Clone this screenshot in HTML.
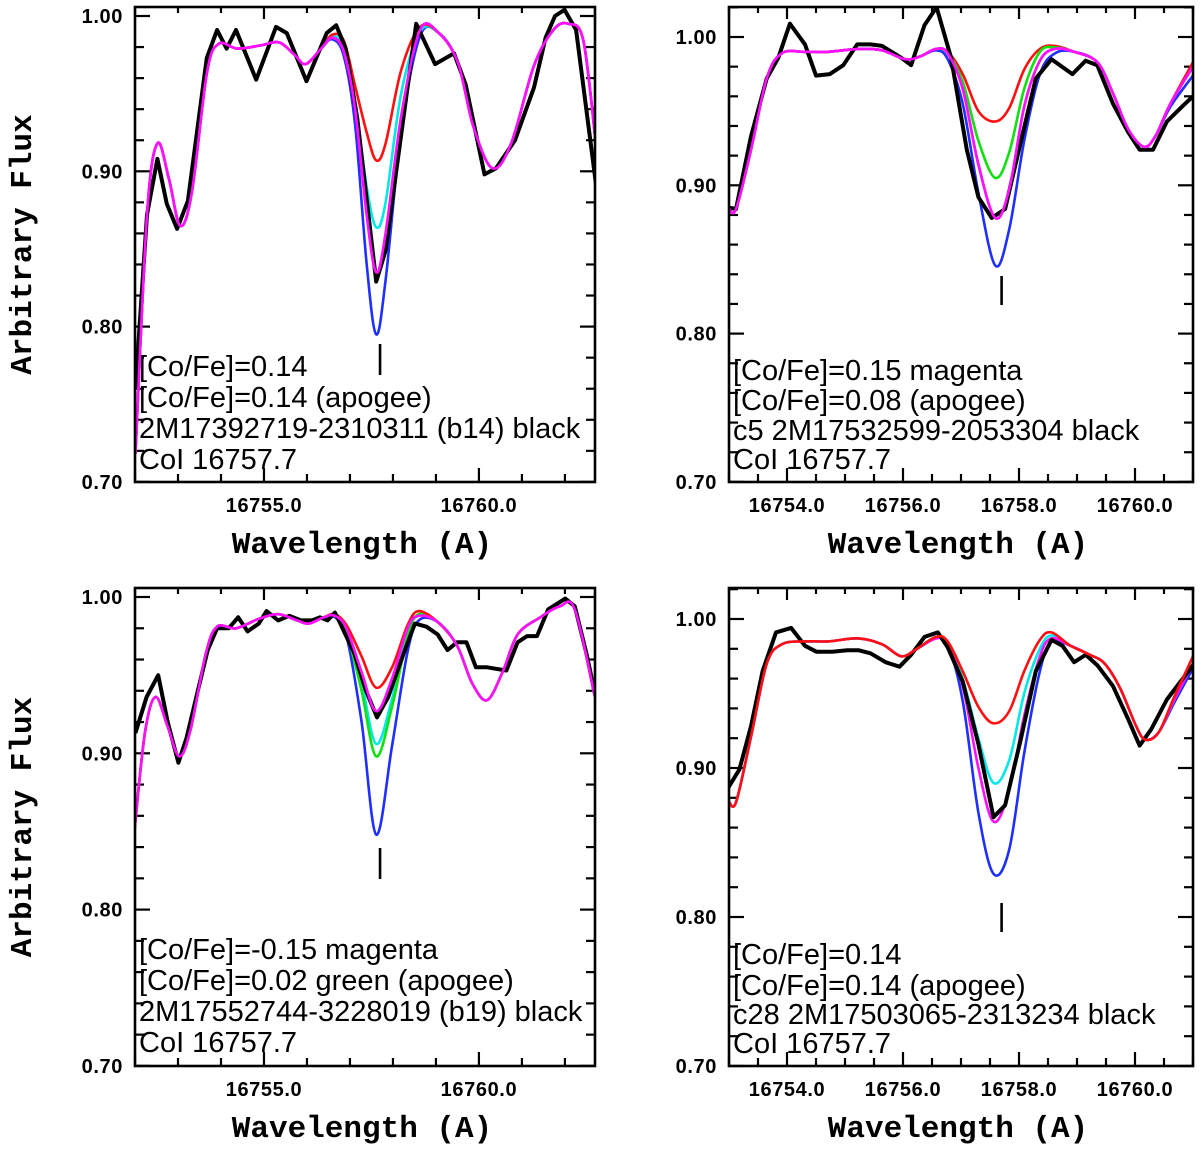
<!DOCTYPE html>
<html><head><meta charset="utf-8">
<style>
html,body{margin:0;padding:0;background:#fff;}
svg{display:block;}
.tl{font-family:"Liberation Sans",sans-serif;font-weight:bold;font-size:20px;letter-spacing:0.6px;fill:#000;}
.ax{font-family:"Liberation Mono",monospace;font-weight:bold;font-size:31px;fill:#000;}
.ann{font-family:"Liberation Sans",sans-serif;font-size:29px;fill:#000;}
</style></head>
<body>
<svg id="fig" width="1200" height="1149" viewBox="0 0 1200 1149" xmlns="http://www.w3.org/2000/svg"></svg>
<script>
// ---------- Panel TL data ----------
const tlObsWl=[16752.01,16752.28,16752.52,16752.74,16752.98,16753.23,16753.67,16753.91,16754.13,16754.35,16754.82,16755.28,16755.53,16755.99,16756.46,16756.68,16756.90,16757.17,16757.61,16757.83,16758.27,16758.54,16758.98,16759.42,16759.69,16760.13,16760.40,16760.84,16761.28,16761.55,16761.77,16761.99,16762.26,16762.73];
const tlObsFlux=[0.76,0.872,0.908,0.879,0.863,0.881,0.973,0.991,0.979,0.991,0.959,0.993,0.989,0.958,0.989,0.994,0.979,0.934,0.829,0.849,0.940,0.995,0.969,0.976,0.956,0.898,0.902,0.920,0.954,0.986,1.000,1.004,0.991,0.890];
const tlModWl=[16752.01,16752.28,16752.52,16752.79,16753.05,16753.32,16753.67,16753.94,16754.38,16754.91,16755.35,16755.71,16755.97,16756.33,16756.59,16756.86,16757.12,16757.39,16757.61,16757.83,16758.19,16758.63,16759.07,16759.51,16759.87,16760.31,16760.75,16761.28,16761.73,16762.08,16762.43,16762.73];
const tlMagenta=[0.718,0.872,0.918,0.895,0.865,0.886,0.963,0.982,0.979,0.981,0.983,0.975,0.969,0.979,0.986,0.977,0.940,0.872,0.835,0.860,0.935,0.991,0.989,0.970,0.929,0.902,0.918,0.968,0.991,0.995,0.984,0.915];
const tlRed=[0.718,0.872,0.918,0.895,0.865,0.886,0.963,0.982,0.979,0.981,0.983,0.975,0.969,0.979,0.988,0.984,0.955,0.925,0.907,0.918,0.965,0.993,0.989,0.970,0.929,0.902,0.918,0.968,0.991,0.995,0.984,0.915];
const tlCyan=[0.718,0.872,0.918,0.895,0.865,0.886,0.963,0.982,0.979,0.981,0.983,0.975,0.969,0.979,0.987,0.980,0.945,0.890,0.864,0.880,0.950,0.990,0.989,0.970,0.929,0.902,0.918,0.968,0.991,0.995,0.984,0.915];
const tlBlue=[0.718,0.872,0.918,0.895,0.865,0.886,0.963,0.982,0.979,0.981,0.983,0.975,0.969,0.979,0.985,0.974,0.930,0.840,0.795,0.830,0.925,0.987,0.989,0.970,0.929,0.902,0.918,0.968,0.991,0.995,0.984,0.915];
const tlText=["[Co/Fe]=0.14","[Co/Fe]=0.14 (apogee)","2M17392719-2310311 (b14) black","CoI 16757.7"];

// ---------- Panel TR data ----------
const trObsWl=[16752.99,16753.12,16753.38,16753.65,16753.85,16754.05,16754.31,16754.50,16754.74,16754.97,16755.21,16755.44,16755.64,16755.97,16756.14,16756.37,16756.58,16756.83,16757.10,16757.30,16757.53,16757.76,16758.03,16758.29,16758.56,16758.92,16759.15,16759.35,16759.62,16759.88,16760.08,16760.31,16760.55,16760.81,16761.0];
const trObsFlux=[0.885,0.884,0.933,0.972,0.986,1.009,0.995,0.974,0.975,0.981,0.995,0.995,0.994,0.986,0.981,1.008,1.020,0.986,0.924,0.892,0.878,0.884,0.929,0.972,0.985,0.975,0.984,0.981,0.955,0.936,0.924,0.924,0.943,0.953,0.960];
const trModWl=[16752.99,16753.12,16753.38,16753.65,16753.91,16754.31,16754.71,16755.24,16755.64,16756.04,16756.30,16756.57,16756.77,16757.03,16757.30,16757.59,16757.83,16758.09,16758.36,16758.62,16758.95,16759.35,16759.62,16759.88,16760.15,16760.35,16760.61,16761.0];
const trMagenta=[0.885,0.884,0.924,0.972,0.989,0.990,0.990,0.992,0.991,0.985,0.987,0.992,0.989,0.965,0.914,0.878,0.897,0.953,0.984,0.992,0.990,0.983,0.962,0.938,0.926,0.933,0.955,0.980];
const trRed=[0.885,0.884,0.924,0.972,0.989,0.990,0.990,0.992,0.991,0.985,0.987,0.992,0.990,0.975,0.950,0.943,0.952,0.978,0.992,0.994,0.990,0.983,0.962,0.938,0.926,0.933,0.955,0.983];
const trGreen=[0.885,0.884,0.924,0.972,0.989,0.990,0.990,0.992,0.991,0.985,0.987,0.992,0.989,0.970,0.930,0.905,0.922,0.965,0.990,0.993,0.990,0.983,0.962,0.938,0.926,0.933,0.955,0.980];
const trBlue=[0.885,0.884,0.924,0.972,0.989,0.990,0.990,0.992,0.991,0.985,0.987,0.991,0.985,0.955,0.895,0.846,0.870,0.930,0.975,0.989,0.990,0.983,0.962,0.938,0.926,0.933,0.953,0.974];
const trText=["[Co/Fe]=0.15 magenta","[Co/Fe]=0.08 (apogee)","c5 2M17532599-2053304 black","CoI 16757.7"];

// ---------- Panel BL data ----------
const blObsWl=[16752.01,16752.27,16752.54,16752.76,16753.01,16753.20,16753.47,16753.69,16753.91,16754.18,16754.40,16754.62,16754.88,16755.06,16755.33,16755.59,16755.86,16756.12,16756.30,16756.48,16756.65,16756.74,16757.10,16757.36,16757.63,16757.89,16758.25,16758.51,16758.78,16759.04,16759.27,16759.49,16759.71,16759.93,16760.19,16760.64,16760.90,16761.12,16761.35,16761.61,16762.01,16762.23,16762.50,16762.70];
const blObsFlux=[0.913,0.936,0.950,0.920,0.894,0.910,0.941,0.966,0.980,0.980,0.987,0.978,0.983,0.991,0.985,0.988,0.985,0.985,0.987,0.985,0.990,0.985,0.964,0.941,0.923,0.936,0.964,0.983,0.981,0.976,0.966,0.971,0.971,0.955,0.955,0.953,0.971,0.975,0.975,0.992,0.999,0.994,0.964,0.938];
const blModWl=[16751.98,16752.23,16752.48,16752.76,16753.03,16753.29,16753.65,16753.91,16754.35,16754.88,16755.33,16755.77,16756.04,16756.39,16756.65,16756.92,16757.27,16757.61,16757.98,16758.34,16758.60,16759.04,16759.49,16759.84,16760.19,16760.55,16760.90,16761.43,16761.88,16762.23,16762.70];
const blMagenta=[0.848,0.913,0.936,0.917,0.898,0.915,0.964,0.981,0.980,0.986,0.989,0.985,0.983,0.987,0.988,0.980,0.952,0.927,0.948,0.980,0.988,0.984,0.969,0.945,0.934,0.952,0.976,0.987,0.994,0.992,0.936];
const blRed=[0.848,0.913,0.936,0.917,0.898,0.915,0.964,0.981,0.980,0.986,0.989,0.985,0.983,0.987,0.989,0.982,0.962,0.942,0.955,0.982,0.991,0.984,0.969,0.945,0.934,0.952,0.976,0.987,0.994,0.992,0.936];
const blCyan=[0.848,0.913,0.936,0.917,0.898,0.915,0.964,0.981,0.980,0.986,0.989,0.985,0.983,0.987,0.988,0.978,0.945,0.906,0.935,0.977,0.988,0.984,0.969,0.945,0.934,0.952,0.976,0.987,0.994,0.992,0.936];
const blGreen=[0.848,0.913,0.936,0.917,0.898,0.915,0.964,0.981,0.980,0.986,0.989,0.985,0.983,0.987,0.988,0.977,0.940,0.898,0.930,0.975,0.989,0.984,0.969,0.945,0.934,0.952,0.976,0.987,0.994,0.992,0.936];
const blBlue=[0.848,0.913,0.936,0.917,0.898,0.915,0.964,0.981,0.980,0.986,0.989,0.985,0.983,0.987,0.987,0.975,0.920,0.848,0.905,0.965,0.985,0.984,0.969,0.945,0.934,0.952,0.976,0.987,0.994,0.992,0.936];
const blText=["[Co/Fe]=-0.15 magenta","[Co/Fe]=0.02 green (apogee)","2M17552744-3228019 (b19) black","CoI 16757.7"];

// ---------- Panel BR data ----------
const brObsWl=[16752.99,16753.18,16753.38,16753.58,16753.81,16754.07,16754.31,16754.51,16754.78,16755.04,16755.24,16755.44,16755.70,16755.94,16756.14,16756.37,16756.60,16756.77,16757.03,16757.30,16757.56,16757.76,16758.03,16758.29,16758.56,16758.75,16758.95,16759.15,16759.35,16759.62,16759.88,16760.08,16760.28,16760.55,16761.0];
const brObsFlux=[0.887,0.899,0.928,0.965,0.991,0.994,0.982,0.978,0.978,0.979,0.979,0.977,0.971,0.968,0.976,0.988,0.991,0.981,0.958,0.916,0.867,0.875,0.919,0.965,0.986,0.982,0.971,0.976,0.969,0.955,0.933,0.915,0.926,0.946,0.969];
const brModWl=[16752.99,16753.12,16753.38,16753.65,16753.91,16754.31,16754.71,16755.24,16755.64,16755.97,16756.24,16756.57,16756.77,16757.03,16757.30,16757.56,16757.83,16758.09,16758.36,16758.56,16758.89,16759.22,16759.48,16759.75,16760.02,16760.18,16760.41,16760.68,16761.0];
const brRed=[0.878,0.877,0.921,0.970,0.983,0.985,0.985,0.987,0.983,0.975,0.980,0.988,0.985,0.965,0.941,0.930,0.938,0.965,0.986,0.991,0.982,0.976,0.970,0.953,0.928,0.919,0.924,0.948,0.975];
const brMagenta=[0.878,0.877,0.921,0.970,0.983,0.985,0.985,0.987,0.983,0.975,0.980,0.987,0.983,0.955,0.900,0.864,0.885,0.935,0.975,0.987,0.982,0.976,0.970,0.953,0.928,0.919,0.924,0.946,0.970];
const brCyan=[0.878,0.877,0.921,0.970,0.983,0.985,0.985,0.987,0.983,0.975,0.980,0.988,0.984,0.960,0.920,0.890,0.905,0.950,0.980,0.989,0.982,0.976,0.970,0.953,0.928,0.919,0.924,0.946,0.970];
const brBlue=[0.878,0.877,0.921,0.970,0.983,0.985,0.985,0.987,0.983,0.975,0.980,0.987,0.983,0.945,0.870,0.829,0.845,0.910,0.965,0.985,0.982,0.976,0.970,0.953,0.928,0.919,0.924,0.944,0.967];
const brText=["[Co/Fe]=0.14","[Co/Fe]=0.14  (apogee)","c28 2M17503065-2313234 black","CoI 16757.7"];

const yTickLabels=["0.70","0.80","0.90","1.00"];
const yTickValues=[0.70,0.80,0.90,1.00];
const lineCenter=16757.7;

const NS="http://www.w3.org/2000/svg";
const svg=document.getElementById('fig');
function mk(tag,attrs,parent){const e=document.createElementNS(NS,tag);for(const k in attrs)e.setAttribute(k,attrs[k]);(parent||svg).appendChild(e);return e;}

function smoothPath(px){
  let d="M"+px[0][0].toFixed(1)+","+px[0][1].toFixed(1);
  for(let i=0;i<px.length-1;i++){
    const p0=px[Math.max(0,i-1)],p1=px[i],p2=px[i+1],p3=px[Math.min(px.length-1,i+2)];
    const c1x=p1[0]+(p2[0]-p0[0])/6,c1y=p1[1]+(p2[1]-p0[1])/6;
    const c2x=p2[0]-(p3[0]-p1[0])/6,c2y=p2[1]-(p3[1]-p1[1])/6;
    d+=" C"+c1x.toFixed(1)+","+c1y.toFixed(1)+" "+c2x.toFixed(1)+","+c2y.toFixed(1)+" "+p2[0].toFixed(1)+","+p2[1].toFixed(1);
  }
  return d;
}

function panel(cfg){
  const g=mk('g',{});
  
  
  const X=v=>cfg.L+(v-cfg.xmin)/(cfg.xmax-cfg.xmin)*(cfg.R-cfg.L);
  const Y=v=>cfg.y100+(1.0-v)*cfg.pxPer*100;
  const clipId='clip-'+cfg.name;
  const cp=mk('clipPath',{id:clipId},g);
  mk('rect',{x:cfg.L,y:cfg.T,width:cfg.R-cfg.L,height:cfg.B-cfg.T},cp);
  const ticks=mk('g',{stroke:'#000','stroke-width':2.2},g);
  
  
  for(let k=0;k<=20;k++){
    const v=0.70+k*0.02; const y=Y(v); if(y<cfg.T-0.5)break;
    const major=(k%5===0), len=major?15:9;
    mk('line',{x1:cfg.L,y1:y,x2:cfg.L+len,y2:y},ticks);
    mk('line',{x1:cfg.R,y1:y,x2:cfg.R-len,y2:y},ticks);
  }
  const n=Math.round((cfg.xmax-cfg.xmin)/cfg.minor);
  for(let k=0;k<=n+1;k++){
    const v=Math.ceil(cfg.xmin/cfg.minor-1e-6)*cfg.minor+k*cfg.minor; if(v>cfg.xmax)break;
    const x=X(v); const major=Math.abs(v/cfg.major-Math.round(v/cfg.major))<1e-6; const len=major?14:8;
    mk('line',{x1:x,y1:cfg.B,x2:x,y2:cfg.B-len},ticks);
    mk('line',{x1:x,y1:cfg.T,x2:x,y2:cfg.T+len-2},ticks);
    if(major){
      const t=mk('text',{x:x,y:cfg.B+30,'text-anchor':'middle',class:'tl'},g);
      
      
      t.textContent=v.toFixed(1);
    }
  }
  yTickValues.forEach((v,i)=>{
    const t=mk('text',{x:cfg.L-12,y:Y(v)+7,'text-anchor':'end',class:'tl'},g);
    
    
    t.textContent=yTickLabels[i];
  });
  const cg=mk('g',{'clip-path':'url(#'+clipId+')',fill:'none','stroke-linejoin':'round'},g);
  cfg.models.forEach(m=>{
    const p=mk('path',{d:smoothPath(cfg.modWl.map((w,i)=>[X(w),Y(m.f[i])])),stroke:m.c,'stroke-width':2.6},cg);
    
    
  });
  const ob=mk('polyline',{points:cfg.obsWl.map((w,i)=>X(w).toFixed(1)+","+Y(cfg.obsF[i]).toFixed(1)).join(' '),stroke:'#000','stroke-width':4},cg);
  
  
  if(cfg.topModel){
    const m=cfg.topModel;
    const p=mk('path',{d:smoothPath(cfg.modWl.map((w,i)=>[X(w),Y(m.f[i])])),stroke:m.c,'stroke-width':2.6},cg);
    
    
  }
  const fr=mk('rect',{x:cfg.L,y:cfg.T,width:cfg.R-cfg.L,height:cfg.B-cfg.T,fill:'none',stroke:'#000','stroke-width':2.6},g);
  
  
  const mkx=X(lineCenter);
  const ml=mk('line',{x1:mkx,y1:cfg.m1,x2:mkx,y2:cfg.m2,stroke:'#000','stroke-width':2.6},g);
  
  
  cfg.text.forEach((s,i)=>{
    const t=mk('text',{x:cfg.L+4,y:cfg.ty[i]+10,class:'ann'},g);
    
    
    t.textContent=s;
  });
  const cx=(cfg.L+cfg.R)/2-3;
  const xt=mk('text',{x:cx,y:cfg.B+71,'text-anchor':'middle',class:'ax'},g);
  
  
  xt.textContent="Wavelength (A)";
  if(cfg.yTitle){
    const cy=(cfg.T+cfg.B)/2;
    const yt=mk('text',{x:0,y:0,'text-anchor':'middle',class:'ax',transform:'translate(31,'+cy+') rotate(-90)'},g);
    
    
    yt.textContent="Arbitrary Flux";
  }
}

panel({name:'panel-b14',L:135,R:595,T:7,B:482,xmin:16752.0,xmax:16762.7,y100:16,pxPer:15.53,minor:1,major:5,
  obsWl:tlObsWl,obsF:tlObsFlux,modWl:tlModWl,
  models:[{n:'blue',c:'#1f2fff',f:tlBlue},{n:'cyan',c:'#00e8e8',f:tlCyan},{n:'red',c:'#ff1010',f:tlRed},{n:'magenta',c:'#ff10ff',f:tlMagenta}],
  topModel:{n:'magenta',c:'#ff10ff',f:tlMagenta},
  m1:344,m2:375,text:tlText,ty:[366,397,428,459],yTitle:true});
panel({name:'panel-c5',L:729,R:1193,T:7,B:482,xmin:16753.0,xmax:16761.0,y100:37,pxPer:14.83,minor:0.5,major:2,
  obsWl:trObsWl,obsF:trObsFlux,modWl:trModWl,
  models:[{n:'blue',c:'#1f2fff',f:trBlue},{n:'red',c:'#ff1010',f:trRed},{n:'green',c:'#10e010',f:trGreen},{n:'magenta',c:'#ff10ff',f:trMagenta}],
  topModel:{n:'magenta',c:'#ff10ff',f:trMagenta},
  m1:276,m2:305,text:trText,ty:[370,400,430,459],yTitle:false});
panel({name:'panel-b19',L:135,R:595,T:588,B:1066,xmin:16752.0,xmax:16762.7,y100:597,pxPer:15.63,minor:1,major:5,
  obsWl:blObsWl,obsF:blObsFlux,modWl:blModWl,
  models:[{n:'blue',c:'#1f2fff',f:blBlue},{n:'cyan',c:'#00e8e8',f:blCyan},{n:'green',c:'#10e010',f:blGreen},{n:'red',c:'#ff1010',f:blRed}],
  topModel:{n:'magenta',c:'#ff10ff',f:blMagenta},
  m1:848,m2:879,text:blText,ty:[949,980,1011,1042],yTitle:true});
panel({name:'panel-c28',L:729,R:1193,T:588,B:1066,xmin:16753.0,xmax:16761.0,y100:619,pxPer:14.9,minor:0.5,major:2,
  obsWl:brObsWl,obsF:brObsFlux,modWl:brModWl,
  models:[{n:'blue',c:'#1f2fff',f:brBlue},{n:'cyan',c:'#00e8e8',f:brCyan},{n:'magenta',c:'#ff10ff',f:brMagenta}],
  topModel:{n:'red',c:'#ff1010',f:brRed},
  m1:903,m2:932,text:brText,ty:[954,985,1014,1043],yTitle:false});
</script>
</body></html>
